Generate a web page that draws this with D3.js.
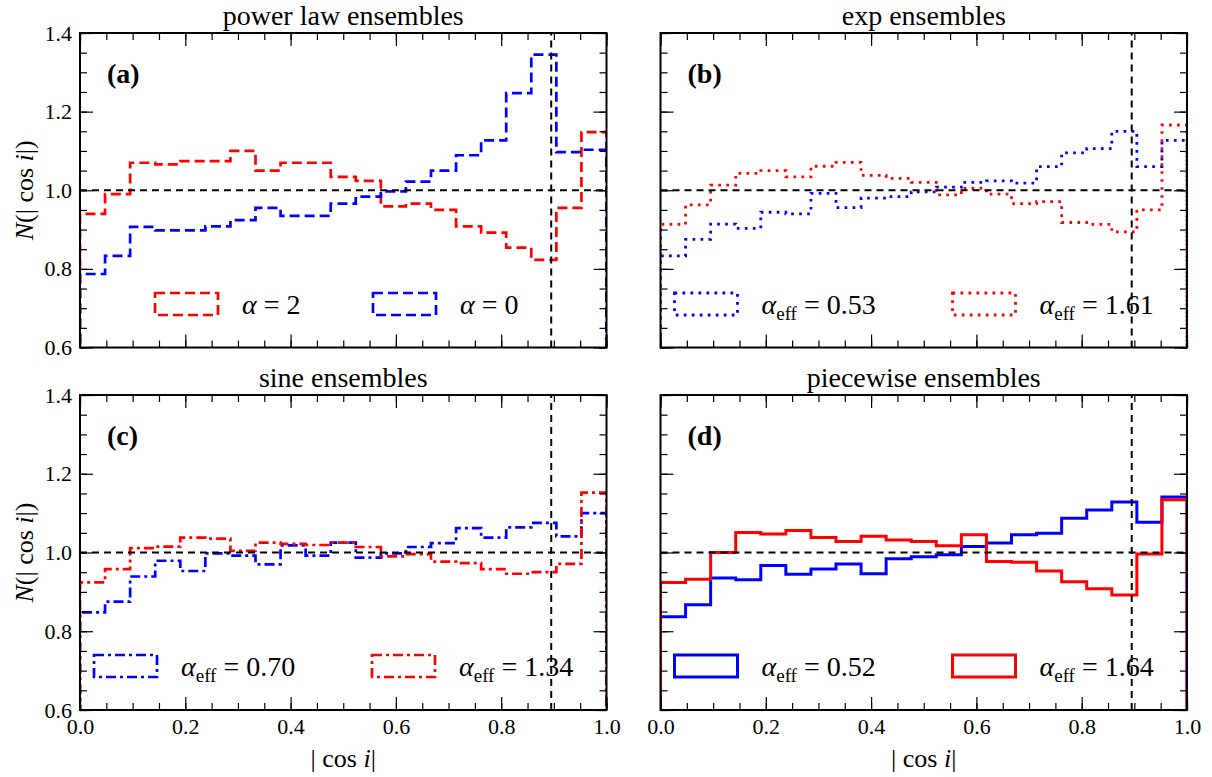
<!DOCTYPE html>
<html>
<head>
<meta charset="utf-8">
<script src="https://cdn.jsdelivr.net/npm/d3@7"></script>
<style>
  body { margin: 0; background: #ffffff; }
  svg { display: block; }
  text { font-family: "Liberation Serif", "DejaVu Serif", serif; fill: #000; }
</style>
</head>
<body>
<svg id="chart" width="1212" height="777"></svg>
<script>
// ---- data: normalised counts N(|cos i|) in 21 equal bins on [0, 1] ----
const binCount = 21;

const powerLawAlpha2 = [0.940, 0.990, 1.070, 1.066, 1.074, 1.074, 1.100, 1.050, 1.070, 1.070, 1.034,
                        1.024, 0.959, 0.966, 0.950, 0.908, 0.892, 0.854, 0.823, 0.955, 1.148];
const powerLawAlpha0 = [0.787, 0.833, 0.907, 0.898, 0.898, 0.908, 0.924, 0.955, 0.935, 0.935, 0.966,
                        0.984, 0.997, 1.022, 1.050, 1.089, 1.127, 1.247, 1.345, 1.097, 1.103];

const expLow  = [0.833, 0.875, 0.914, 0.903, 0.944, 0.940, 0.992, 0.956, 0.980, 0.984, 0.996,
                 1.008, 1.020, 1.024, 1.018, 1.060, 1.095, 1.106, 1.150, 1.060, 1.127];
const expHigh = [0.913, 0.963, 1.013, 1.043, 1.050, 1.034, 1.061, 1.071, 1.038, 1.030, 1.020,
                 0.988, 1.005, 0.990, 0.966, 0.971, 0.918, 0.913, 0.894, 0.950, 1.166];

const sineLow  = [0.848, 0.875, 0.939, 0.979, 0.953, 0.998, 0.992, 0.970, 1.018, 0.992, 1.025,
                  0.987, 0.998, 1.014, 1.024, 1.062, 1.038, 1.064, 1.075, 1.041, 1.100];
const sineHigh = [0.924, 0.958, 1.011, 1.015, 1.038, 1.035, 1.004, 1.025, 1.022, 1.019, 1.025,
                  1.014, 0.990, 0.996, 0.977, 0.973, 0.958, 0.946, 0.950, 0.971, 1.152];

const pieceLow  = [0.837, 0.867, 0.935, 0.931, 0.967, 0.945, 0.958, 0.971, 0.946, 0.984, 0.989,
                   0.994, 1.015, 1.024, 1.045, 1.049, 1.087, 1.108, 1.128, 1.077, 1.141];
const pieceHigh = [0.924, 0.932, 1.000, 1.051, 1.047, 1.056, 1.038, 1.028, 1.041, 1.032, 1.028,
                   1.017, 1.045, 0.977, 0.975, 0.953, 0.926, 0.908, 0.892, 0.996, 1.134];

const panelTitles  = ["power law ensembles", "exp ensembles", "sine ensembles", "piecewise ensembles"];
const panelLetters = ["(a)", "(b)", "(c)", "(d)"];
const legendValues = [["2", "0"], ["0.53", "1.61"], ["0.70", "1.34"], ["0.52", "1.64"]];

const xMajorTicks = [0.0, 0.2, 0.4, 0.6, 0.8, 1.0];
const yMajorTicks = [0.6, 0.8, 1.0, 1.2, 1.4];
const xMinorTicks = d3.range(0, 21).map(i => i * 0.05);
const yMinorTicks = d3.range(12, 29).map(i => i * 0.05);

const isotropicLevel = 1.0;
const cosCut = 0.895;

// ---- styles ----
const RED = "#ff0000", BLUE = "#0000ff";
const dashStyles = {
  dashed:  { dash: "10,5",       width: 2.7 },
  dotted:  { dash: "2.7,5.3",    width: 2.8 },
  dashdot: { dash: "10,4,3,4",   width: 2.7 },
  solid:   { dash: null,         width: 3 }
};

// ---- panel layout ----
const cols = [[80, 606.5], [660.5, 1187]];
const rows = [[33, 347.5], [395, 710]];

const panels = [
  { col: 0, row: 0, style: "dashed",
    series: [{ values: powerLawAlpha2, color: RED,  eff: false, label: legendValues[0][0] },
             { values: powerLawAlpha0, color: BLUE, eff: false, label: legendValues[0][1] }],
    legendX: [75, 293] },
  { col: 1, row: 0, style: "dotted",
    series: [{ values: expLow,  color: BLUE, eff: true, label: legendValues[1][0] },
             { values: expHigh, color: RED,  eff: true, label: legendValues[1][1] }],
    legendX: [14, 292] },
  { col: 0, row: 1, style: "dashdot",
    series: [{ values: sineLow,  color: BLUE, eff: true, label: legendValues[2][0] },
             { values: sineHigh, color: RED,  eff: true, label: legendValues[2][1] }],
    legendX: [14, 292] },
  { col: 1, row: 1, style: "solid",
    series: [{ values: pieceLow,  color: BLUE, eff: true, label: legendValues[3][0] },
             { values: pieceHigh, color: RED,  eff: true, label: legendValues[3][1] }],
    legendX: [14, 292] }
];

const svg = d3.select("#chart");
const defs = svg.append("defs");

panels.forEach((p, i) => {
  const [x0, x1] = cols[p.col];
  const [yt, yb] = rows[p.row];
  const x = d3.scaleLinear().domain([0, 1]).range([x0, x1]);
  const y = d3.scaleLinear().domain([0.6, 1.4]).range([yb, yt]);
  const st = dashStyles[p.style];

  const g = svg.append("g");
  const clipId = "clip" + i;
  defs.append("clipPath").attr("id", clipId)
    .append("rect").attr("x", x0).attr("y", yt).attr("width", x1 - x0).attr("height", yb - yt);

  // step histograms, drawn from a zero baseline like a 'step' histogram
  const edges = d3.range(binCount + 1).map(k => k / binCount);
  const line = d3.line().x(d => x(d[0])).y(d => y(d[1]));
  const plot = g.append("g").attr("clip-path", `url(#${clipId})`);
  p.series.forEach(s => {
    const pts = [[0, 0]];
    s.values.forEach((v, k) => { pts.push([edges[k], v]); pts.push([edges[k + 1], v]); });
    pts.push([1, 0]);
    plot.append("path")
      .attr("d", line(pts))
      .attr("fill", "none")
      .attr("stroke", s.color)
      .attr("stroke-width", st.width)
      .attr("stroke-dasharray", st.dash)
      .attr("stroke-linejoin", "miter");
  });

  // reference lines: isotropic level and the |cos i| cut
  plot.append("line")
    .attr("x1", x(0)).attr("x2", x(1))
    .attr("y1", y(isotropicLevel)).attr("y2", y(isotropicLevel))
    .attr("stroke", "#000").attr("stroke-width", 2).attr("stroke-dasharray", "7,5");
  plot.append("line")
    .attr("x1", x(cosCut)).attr("x2", x(cosCut))
    .attr("y1", y(0.6)).attr("y2", y(1.4))
    .attr("stroke", "#000").attr("stroke-width", 2).attr("stroke-dasharray", "7,5");

  // inward ticks on all four sides
  const major = 13, minor = 7;
  const axes = [
    [d3.axisBottom(x), `translate(0,${yb})`, xMajorTicks, xMinorTicks, p.row === 1, true],
    [d3.axisTop(x),    `translate(0,${yt})`, xMajorTicks, xMinorTicks, false, false],
    [d3.axisLeft(y),   `translate(${x0},0)`, yMajorTicks, yMinorTicks, p.col === 0, false],
    [d3.axisRight(y),  `translate(${x1},0)`, yMajorTicks, yMinorTicks, false, false]
  ];
  axes.forEach(([ax, tr, majT, minT, labelled, isBottom]) => {
    const gMin = g.append("g").attr("transform", tr)
      .call(ax.tickValues(minT).tickSize(-minor).tickFormat(""));
    gMin.select(".domain").remove();
    gMin.selectAll(".tick line").attr("stroke", "#000").attr("stroke-width", 1.2);

    const gMaj = g.append("g").attr("transform", tr)
      .call(ax.tickValues(majT).tickSize(-major).tickPadding(labelled ? 8 : 0)
        .tickFormat(labelled ? d3.format(".1f") : ""));
    gMaj.select(".domain").remove();
    gMaj.selectAll(".tick line").attr("stroke", "#000").attr("stroke-width", 1.2);
    gMaj.selectAll(".tick text").attr("font-size", 22).attr("fill", "#000");
    if (isBottom) gMaj.selectAll(".tick text").attr("dy", "0.72em");
  });

  // frame
  g.append("rect")
    .attr("x", x0).attr("y", yt).attr("width", x1 - x0).attr("height", yb - yt)
    .attr("fill", "none").attr("stroke", "#000").attr("stroke-width", 2);

  // title and panel letter
  g.append("text")
    .attr("x", (x0 + x1) / 2).attr("y", yt - 8)
    .attr("text-anchor", "middle").attr("font-size", 28)
    .text(panelTitles[i]);
  g.append("text")
    .attr("x", x0 + 27).attr("y", yt + 50)
    .attr("font-size", 28).attr("font-weight", "bold")
    .text(panelLetters[i]);

  // legend: outlined patches in each series' line style
  p.series.forEach((s, k) => {
    const px = x0 + p.legendX[k];
    g.append("rect")
      .attr("x", px).attr("y", yt + 260).attr("width", 63).attr("height", 22)
      .attr("fill", "none").attr("stroke", s.color)
      .attr("stroke-width", st.width).attr("stroke-dasharray", st.dash);
    const t = g.append("text")
      .attr("x", px + 87).attr("y", yt + 281)
      .attr("font-size", 28).attr("fill", "#222");
    t.append("tspan").attr("font-style", "italic").text("α");
    if (s.eff) {
      t.append("tspan").attr("font-size", 19).attr("dy", 6).text("eff");
      t.append("tspan").attr("dy", -6).text(" = " + s.label);
    } else {
      t.append("tspan").text(" = " + s.label);
    }
  });

  // axis titles
  if (p.col === 0) {
    const yl = g.append("text")
      .attr("transform", `translate(33,${(yt + yb) / 2}) rotate(-90)`)
      .attr("text-anchor", "middle").attr("font-size", 26);
    yl.append("tspan").attr("font-style", "italic").text("N");
    yl.append("tspan").text("(| cos ");
    yl.append("tspan").attr("font-style", "italic").text("i");
    yl.append("tspan").text("|)");
  }
  if (p.row === 1) {
    const xl = g.append("text")
      .attr("x", (x0 + x1) / 2).attr("y", 767)
      .attr("text-anchor", "middle").attr("font-size", 26);
    xl.append("tspan").text("| cos ");
    xl.append("tspan").attr("font-style", "italic").text("i");
    xl.append("tspan").text("|");
  }
});
</script>
</body>
</html>
